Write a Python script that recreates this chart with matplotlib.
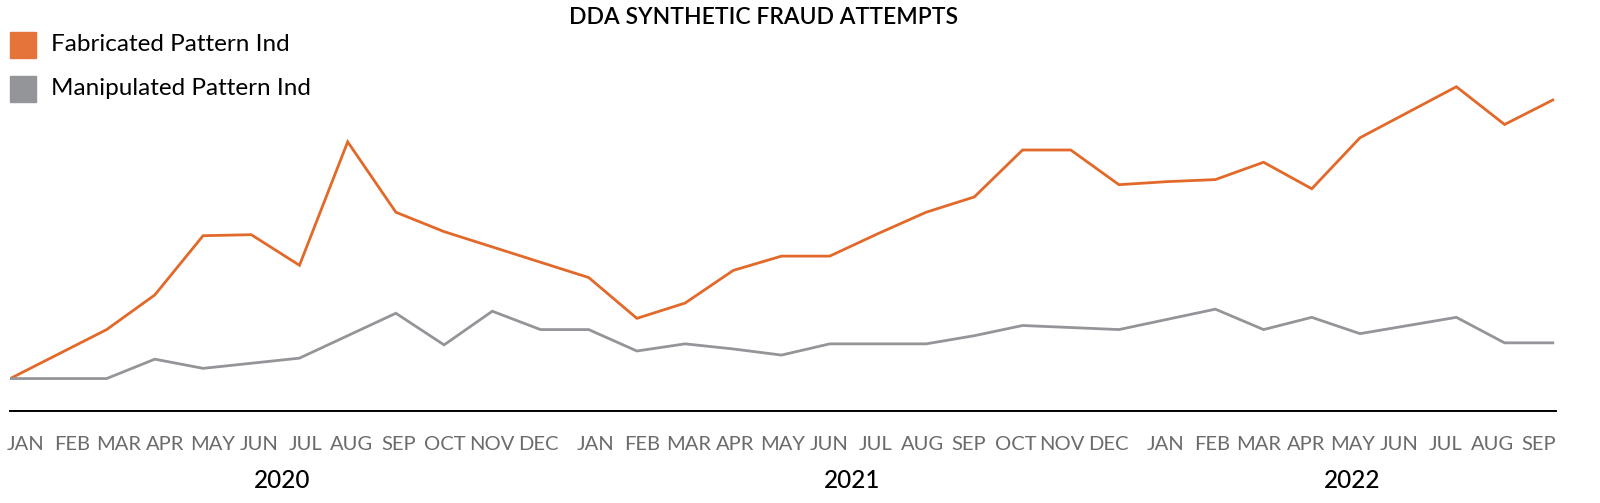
import matplotlib
matplotlib.use('Agg')
import matplotlib.pyplot as plt
import matplotlib.transforms as mtransforms
from matplotlib.patches import Rectangle

plt.rcParams['font.family'] = ['Lato', 'DejaVu Sans']

# monthly values, Jan 2020 .. Sep 2022 (no y scale on the original, read as relative heights)
fabricated = [32, 56, 80, 114, 172, 173, 143, 264, 195, 176, 161, 146,
              131, 91, 106, 138, 152, 152, 174, 195, 210, 256, 256, 222,
              225, 227, 244, 218, 268, 293, 318, 281, 305]
manipulated = [32, 32, 32, 51, 42, 47, 52, 74, 96, 65, 98, 80,
               80, 59, 66, 61, 55, 66, 66, 66, 74, 84, 82, 80,
               90, 100, 80, 92, 76, 84, 92, 67, 67]
months = ['JAN', 'FEB', 'MAR', 'APR', 'MAY', 'JUN',
          'JUL', 'AUG', 'SEP', 'OCT', 'NOV', 'DEC']
years = ['2020', '2021', '2022']
series_names = ['Fabricated Pattern Ind', 'Manipulated Pattern Ind']

ORANGE = '#E2692A'
ORANGE_SQ = '#E5743A'
GRAY = '#939598'

fig = plt.figure(figsize=(16, 5.03), dpi=100)
ax = fig.add_axes([0.0064, 0.1825, 0.9662, 0.6694])

x = list(range(len(fabricated)))
ax.plot(x, fabricated, color=ORANGE, lw=2.0, solid_joinstyle='miter', zorder=2)
ax.plot(x, manipulated, color=GRAY, lw=2.0, solid_joinstyle='miter', zorder=3)

ax.set_xlim(0, 32.07)
ax.set_ylim(0, 330)
for s in ['top', 'left', 'right']:
    ax.spines[s].set_visible(False)
ax.spines['bottom'].set_linewidth(1.4)
ax.spines['bottom'].set_color('black')
ax.set_xticks([])
ax.set_yticks([])

# month labels are spaced a bit tighter than the data, with a gap between years
trans = mtransforms.blended_transform_factory(ax.transData, fig.transFigure)
step = 0.967
gap = 1.19
start = 0.32
n = len(fabricated)
for yi, yr in enumerate(years):
    pos = []
    for m, mon in enumerate(months):
        if yi * 12 + m >= n:
            break
        px = start + (yi * 11 + m) * step + yi * gap
        pos.append(px)
        ax.text(px, 0.117, mon, transform=trans, ha='center', va='center',
                fontsize=14.5, color='#6a6b6d', fontweight='normal')
    ax.text((pos[0] + pos[-1]) / 2, 0.045, yr, transform=trans, ha='center',
            va='center', fontsize=17.5, color='black', fontweight='medium')

fig.text(0.477, 0.965, 'DDA SYNTHETIC FRAUD ATTEMPTS', ha='center', va='center',
         fontsize=16.5, color='black', fontweight='semibold')

# legend squares
for i, (name, c) in enumerate(zip(series_names, [ORANGE_SQ, GRAY])):
    yc = 1 - (44 + 43 * i) * 1.0204 / 503
    fig.patches.append(Rectangle((0.0065, yc - 0.026), 0.0163, 0.052,
                                 transform=fig.transFigure, color=c))
    fig.text(0.032, yc, name, ha='left', va='center', fontsize=17.5,
             color='black', fontweight='normal')

fig.savefig('out.png', dpi=100)
